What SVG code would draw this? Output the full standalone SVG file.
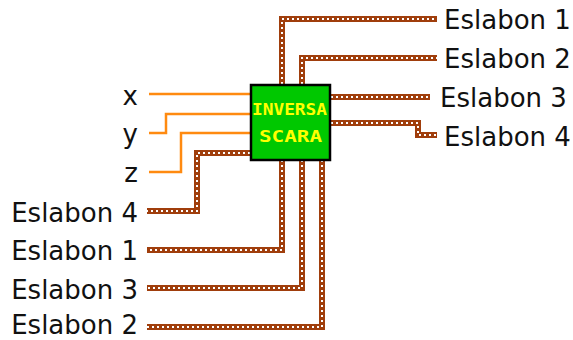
<svg xmlns="http://www.w3.org/2000/svg" width="573" height="340" viewBox="0 0 573 340">
<style>
.wb{fill:none;stroke:#A03E0C;stroke-width:6;stroke-linejoin:miter;stroke-linecap:butt}
.wd{fill:none;stroke:#FFFFFF;stroke-width:2;stroke-dasharray:2 3;stroke-linecap:butt}
.wo{fill:none;stroke:#FF8A10;stroke-width:2.5}
.lbl{font-family:"DejaVu Sans",Verdana,sans-serif;font-size:26px;fill:#111}
.box{font-family:"DejaVu Sans Mono","Liberation Mono",monospace;font-weight:bold;font-size:16px;fill:#FFFF00}
</style>
<rect width="573" height="340" fill="#fff"/>
<g id="connectors">
<path class="wo" d="M149 94 H250"/>
<path class="wo" d="M149 133 H166 V114 H250"/>
<path class="wo" d="M149 172 H181 V133 H250"/>
<g>
<path class="wb" d="M282 84 V19 H437"/><path class="wd" d="M282 84 V19 H437"/>
<path class="wb" d="M302 84 V58 H437"/><path class="wd" d="M302 84 V58 H437"/>
<path class="wb" d="M331 97 H430"/><path class="wd" d="M331 97 H430"/>
<path class="wb" d="M331 123 H418 V135 H437"/><path class="wd" d="M331 123 H418 V135 H437"/>
<path class="wb" d="M250 153 H197 V211 H147"/><path class="wd" d="M250 153 H197 V211 H147"/>
<path class="wb" d="M282 160 V250 H147"/><path class="wd" d="M282 160 V250 H147"/>
<path class="wb" d="M302 160 V288 H147"/><path class="wd" d="M302 160 V288 H147"/>
<path class="wb" d="M322 160 V327 H147"/><path class="wd" d="M322 160 V327 H147"/>
</g>
</g>
<g id="inversa-scara">
<rect x="251" y="85" width="79" height="75" fill="#00C800" stroke="#000" stroke-width="2.5"/>
<text class="box" x="252" y="115" textLength="75" lengthAdjust="spacingAndGlyphs">INVERSA</text>
<text class="box" x="259" y="142" textLength="63" lengthAdjust="spacingAndGlyphs">SCARA</text>
</g>
<g id="in-x"><text class="lbl" x="138" y="105" text-anchor="end">x</text></g>
<g id="in-y"><text class="lbl" x="138" y="143" text-anchor="end">y</text></g>
<g id="in-z"><text class="lbl" x="138" y="182" text-anchor="end">z</text></g>
<g id="in-eslabon4"><text class="lbl" x="138" y="222" text-anchor="end">Eslabon 4</text></g>
<g id="in-eslabon1"><text class="lbl" x="138" y="260" text-anchor="end">Eslabon 1</text></g>
<g id="in-eslabon3"><text class="lbl" x="138" y="299" text-anchor="end">Eslabon 3</text></g>
<g id="in-eslabon2"><text class="lbl" x="138" y="334" text-anchor="end">Eslabon 2</text></g>
<g id="out-eslabon1"><text class="lbl" x="444" y="29">Eslabon 1</text></g>
<g id="out-eslabon2"><text class="lbl" x="444" y="68">Eslabon 2</text></g>
<g id="out-eslabon3"><text class="lbl" x="440" y="107">Eslabon 3</text></g>
<g id="out-eslabon4"><text class="lbl" x="444" y="146">Eslabon 4</text></g>
</svg>
